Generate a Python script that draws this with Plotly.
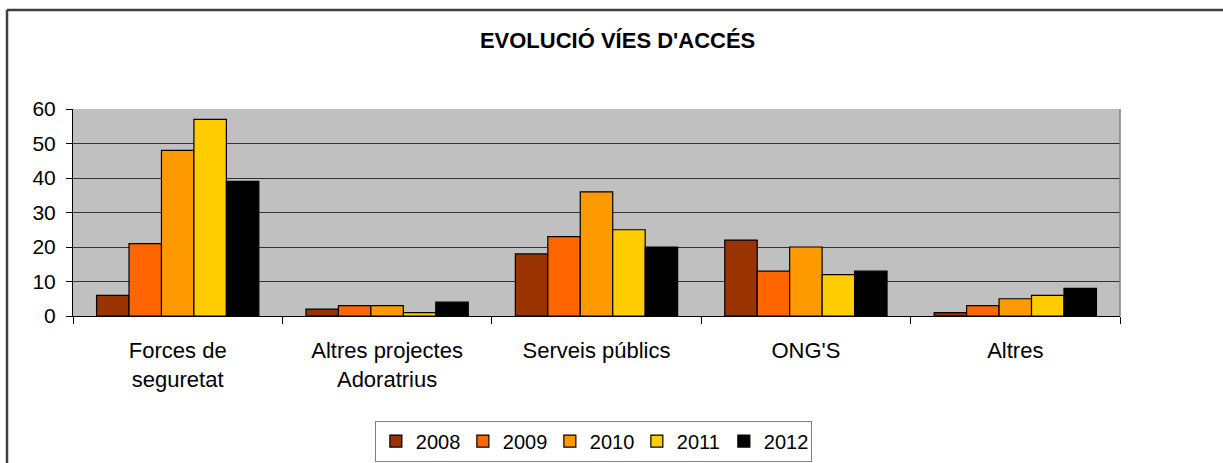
import plotly.graph_objects as go

categories = ["Forces de<br>seguretat", "Altres projectes<br>Adoratrius", "Serveis públics", "ONG'S", "Altres"]
years = ["2008", "2009", "2010", "2011", "2012"]
v2008 = [6, 2, 18, 22, 1]
v2009 = [21, 3, 23, 13, 3]
v2010 = [48, 3, 36, 20, 5]
v2011 = [57, 1, 25, 12, 6]
v2012 = [39, 4, 20, 13, 8]
colors = ["#993300", "#FF6600", "#FF9900", "#FFCC00", "#000000"]

W, H = 1223, 463
L, R, T, B = 73, 103, 109, 147

fig = go.Figure()
for name, vals, col in zip(years, [v2008, v2009, v2010, v2011, v2012], colors):
    fig.add_trace(go.Bar(
        x=categories, y=vals, name=name,
        marker=dict(color=col, line=dict(color="#000000", width=1.2)),
    ))

# cadre extérieur (gauche + haut), en coordonnées papier
px_w = W - L - R
px_h = H - T - B
fx = (7 - L) / px_w
fy = (H - B - 10) / px_h

fig.update_layout(
    width=W, height=H,
    margin=dict(l=L, r=R, t=T, b=B, autoexpand=False),
    paper_bgcolor="white",
    plot_bgcolor="#C0C0C0",
    barmode="group", bargap=0.225, bargroupgap=0,
    font=dict(family="Liberation Sans, Arial, sans-serif", color="#000000", size=20),
    title=dict(
        text="<b>EVOLUCIÓ VÍES D'ACCÉS</b>",
        x=0.505, xanchor="center", xref="container",
        y=1 - 40 / H, yanchor="middle", yref="container",
        font=dict(size=22),
    ),
    legend=dict(
        orientation="h", x=0.497, xanchor="center", y=-0.505, yanchor="top",
        bordercolor="#808080", borderwidth=1,
        font=dict(size=20), itemwidth=30, entrywidth=42, tracegroupgap=0,
    ),
    xaxis=dict(
        showline=True, linecolor="#000000", linewidth=1,
        ticks="outside", ticklen=7, tickcolor="#000000", tickson="boundaries",
        tickfont=dict(size=22), ticklabelstandoff=15,
        showgrid=False,
    ),
    yaxis=dict(
        range=[0, 60], dtick=10,
        showline=True, linecolor="#000000", linewidth=1,
        ticks="outside", ticklen=6, tickcolor="#000000",
        tickfont=dict(size=21), ticklabelstandoff=6,
        showgrid=True, gridcolor="#333333", gridwidth=1.4,
        zeroline=False,
    ),
    shapes=[
        dict(type="line", xref="paper", yref="paper", x0=1, x1=1, y0=0, y1=1,
             line=dict(color="#808080", width=1.5)),
        dict(type="line", xref="paper", yref="paper",
             x0=fx, x1=(W + 5 - L) / px_w, y0=fy, y1=fy,
             line=dict(color="#404040", width=2.5)),
        dict(type="line", xref="paper", yref="paper",
             x0=fx, x1=fx, y0=fy, y1=-(B + 5) / px_h,
             line=dict(color="#404040", width=2.5)),
    ],
)

fig.write_html(
    "out.html",
    config={"displayModeBar": False},
    post_script="document.body.style.margin='0';",
)
